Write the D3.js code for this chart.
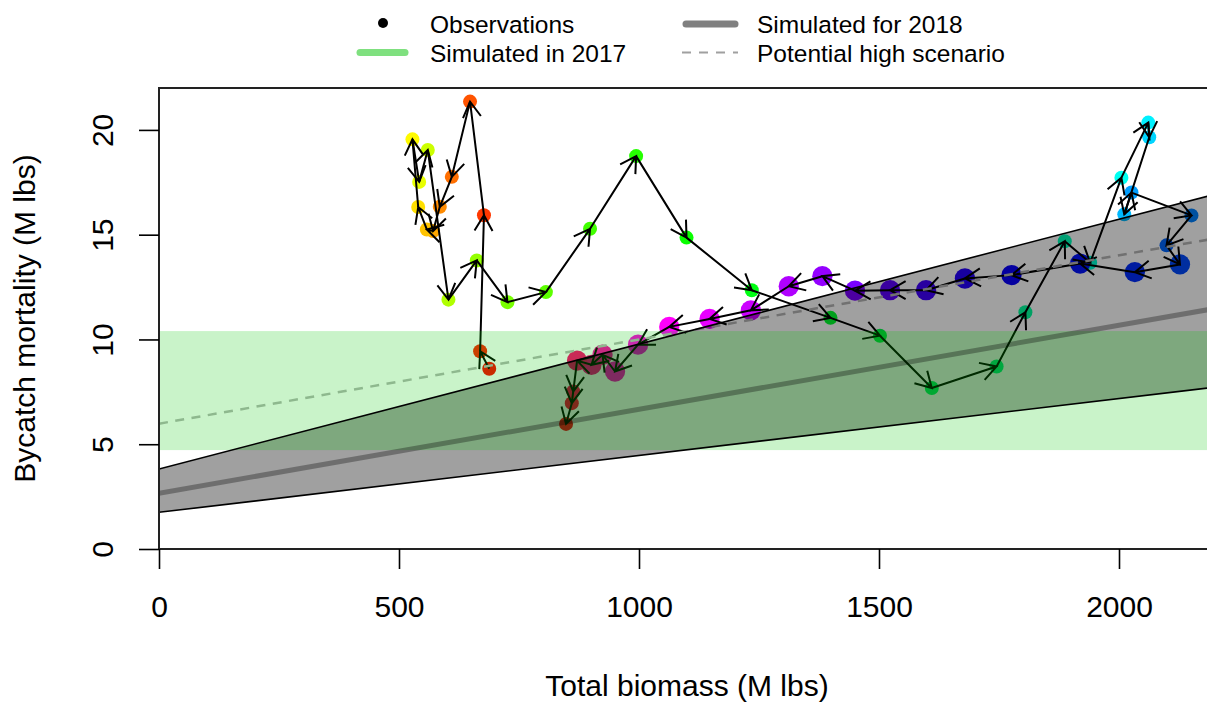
<!DOCTYPE html>
<html>
<head>
<meta charset="utf-8">
<script src="https://cdn.jsdelivr.net/npm/d3@7"></script>
<style>
  body { margin: 0; background: #fff; }
  text { font-family: "Liberation Sans", Arial, sans-serif; fill: #000; }
</style>
</head>
<body>
<div class="canvas"></div>
<script>
// observations, in time order (M lbs)
const biomass = [688, 669, 677, 648, 610, 585, 571, 558, 540, 528,
                 542, 560, 603, 662, 726, 806, 898, 994, 1099, 1235,
                 1399, 1502, 1610, 1745, 1805, 1887, 1940, 2005, 2061, 2063,
                 2011, 2026, 2151, 2099, 2127, 2033, 1919, 1776, 1679, 1598,
                 1523, 1450, 1382, 1312, 1233, 1147, 1063, 998, 950, 924,
                 901, 871, 863, 860, 848];
const bycatch = [8.60, 9.44, 15.93, 21.35, 17.76, 16.33, 15.17, 15.25, 16.32, 19.55,
                 17.52, 19.04, 11.90, 13.77, 11.78, 12.26, 15.28, 18.75, 14.86, 12.35,
                 11.03, 10.18, 7.68, 8.71, 11.30, 14.69, 13.66, 17.72, 20.35, 19.65,
                 15.97, 17.01, 15.92, 14.49, 13.58, 13.21, 13.62, 13.07, 12.91, 12.35,
                 12.35, 12.33, 13.02, 12.54, 11.39, 10.98, 10.60, 9.75, 8.47, 9.27,
                 8.79, 8.99, 7.52, 6.96, 5.97];
const pointCex = [1, 1, 1, 1, 1, 1, 1, 1, 1, 1,
                  1, 1, 1, 1, 1, 1, 1, 1, 1, 1,
                  1, 1, 1, 1, 1, 1, 1, 1, 1, 1,
                  1, 1, 1, 1, 1.45, 1.45, 1.45, 1.45, 1.45, 1.45,
                  1.45, 1.45, 1.45, 1.45, 1.45, 1.45, 1.45, 1.45, 1.45, 1.45,
                  1.45, 1.45, 1, 1, 1];

// simulated relationships (lines at both ends of the biomass range)
const simX = [0, 2200];
const simLower = [1.75, 7.72];
const simMedian = [2.66, 11.48];
const simUpper = [3.82, 16.93];
const highScenario = [5.98, 14.82];
const band2017 = [4.72, 10.40];

const xTicks = [0, 500, 1000, 1500, 2000];
const yTicks = [0, 5, 10, 15, 20];

const width = 1207, height = 702;
const margin = {top: 88, left: 159, right: 1215, bottom: 549};

const svg = d3.select('.canvas')
  .append('svg')
    .attr('width', width)
    .attr('height', height);

const x = d3.scaleLinear().domain([0, 2200]).range([margin.left, margin.right]);
const y = d3.scaleLinear().domain([0, 22]).range([margin.bottom, margin.top]);

svg.append('clipPath')
    .attr('id', 'plot-clip')
  .append('rect')
    .attr('x', margin.left)
    .attr('y', margin.top)
    .attr('width', margin.right - margin.left)
    .attr('height', margin.bottom - margin.top);

const graph = svg.append('g').attr('clip-path', 'url(#plot-clip)');

// colour by position in the series, like R's rainbow()
const hue = d3.scaleLinear().domain([0, biomass.length]).range([0, 360]);
const obs = biomass.map((b, i) => ({b, m: bycatch[i], cex: pointCex[i], i}));

graph.selectAll('circle.obs')
  .data(obs)
  .enter()
  .append('circle')
    .attr('class', 'obs')
    .attr('cx', d => x(d.b))
    .attr('cy', d => y(d.m))
    .attr('r', d => 7 * d.cex)
    .attr('fill', d => d3.hsl(hue(d.i), 1, 0.5).toString());

// arrows from one year to the next
const headLen = 18, headAng = Math.PI / 6;
const arrowPath = (a, b) => {
  const x0 = x(a.b), y0 = y(a.m), x1 = x(b.b), y1 = y(b.m);
  const ang = Math.atan2(y1 - y0, x1 - x0);
  const hx1 = x1 - headLen * Math.cos(ang - headAng), hy1 = y1 - headLen * Math.sin(ang - headAng);
  const hx2 = x1 - headLen * Math.cos(ang + headAng), hy2 = y1 - headLen * Math.sin(ang + headAng);
  return `M${x0},${y0}L${x1},${y1}M${hx1},${hy1}L${x1},${y1}L${hx2},${hy2}`;
};

graph.selectAll('path.arrow')
  .data(d3.pairs(obs))
  .enter()
  .append('path')
    .attr('class', 'arrow')
    .attr('fill', 'none')
    .attr('stroke', '#000')
    .attr('stroke-width', 2)
    .attr('d', d => arrowPath(d[0], d[1]));

const line = d3.line().x(d => x(d[0])).y(d => y(d[1]));

graph.append('path')
    .attr('fill', 'none')
    .attr('stroke', '#b4b4b4')
    .attr('stroke-width', 2.5)
    .attr('stroke-dasharray', '9,7.5')
    .attr('d', line(d3.zip(simX, highScenario)));

// simulated for 2018
const area = d3.area().x(d => x(d[0])).y0(d => y(d[1])).y1(d => y(d[2]));
graph.append('path')
    .attr('fill', '#000')
    .attr('fill-opacity', 0.373)
    .attr('d', area(d3.zip(simX, simLower, simUpper)));

// simulated in 2017
graph.append('rect')
    .attr('x', margin.left)
    .attr('width', margin.right - margin.left)
    .attr('y', y(band2017[1]))
    .attr('height', y(band2017[0]) - y(band2017[1]))
    .attr('fill', 'rgb(0,198,0)')
    .attr('fill-opacity', 0.21);

graph.append('path')
    .attr('fill', 'none')
    .attr('stroke', '#000')
    .attr('stroke-opacity', 0.31)
    .attr('stroke-width', 5)
    .attr('d', line(d3.zip(simX, simMedian)));

[simLower, simUpper].forEach(s => {
  graph.append('path')
      .attr('fill', 'none')
      .attr('stroke', '#000')
      .attr('stroke-width', 1.6)
      .attr('d', line(d3.zip(simX, s)));
});

// box
svg.append('rect')
    .attr('x', margin.left)
    .attr('y', margin.top)
    .attr('width', margin.right - margin.left)
    .attr('height', margin.bottom - margin.top)
    .attr('fill', 'none')
    .attr('stroke', '#222')
    .attr('stroke-width', 2);

// axes
const xAxis = svg.append('g')
    .attr('transform', `translate(0, ${margin.bottom})`)
    .call(d3.axisBottom(x).tickValues(xTicks).tickSize(20).tickFormat(d3.format('d')));
xAxis.select('.domain').remove();
xAxis.selectAll('line').attr('stroke', '#000').attr('stroke-width', 1.6);
xAxis.selectAll('text')
    .attr('y', 68)
    .attr('dy', null)
    .attr('font-size', 30)
    .attr('font-family', '"Liberation Sans", Arial, sans-serif');

const yAxis = svg.append('g')
    .attr('transform', `translate(${margin.left}, 0)`)
    .call(d3.axisLeft(y).tickValues(yTicks).tickSize(20));
yAxis.select('.domain').remove();
yAxis.selectAll('line').attr('stroke', '#000').attr('stroke-width', 1.6);
yAxis.selectAll('text')
    .attr('x', null)
    .attr('dy', null)
    .attr('text-anchor', 'middle')
    .attr('transform', 'translate(-46, 0) rotate(-90)')
    .attr('font-size', 30)
    .attr('font-family', '"Liberation Sans", Arial, sans-serif');

svg.append('text')
    .attr('x', (margin.left + margin.right) / 2)
    .attr('y', 696)
    .attr('text-anchor', 'middle')
    .attr('font-size', 30)
    .text('Total biomass (M lbs)');

svg.append('text')
    .attr('transform', `translate(35, ${(margin.top + margin.bottom) / 2}) rotate(-90)`)
    .attr('text-anchor', 'middle')
    .attr('font-size', 30)
    .text('Bycatch mortality (M lbs)');

// legend
const legend = svg.append('g').attr('class', 'legend');
legend.append('circle').attr('cx', 383).attr('cy', 23).attr('r', 5).attr('fill', '#000');
legend.append('line')
    .attr('x1', 360).attr('x2', 405).attr('y1', 52.5).attr('y2', 52.5)
    .attr('stroke', '#7fe07f').attr('stroke-width', 7).attr('stroke-linecap', 'round');
legend.append('line')
    .attr('x1', 686).attr('x2', 735).attr('y1', 24).attr('y2', 24)
    .attr('stroke', '#808080').attr('stroke-width', 7).attr('stroke-linecap', 'round');
legend.append('line')
    .attr('x1', 682).attr('x2', 738).attr('y1', 52.5).attr('y2', 52.5)
    .attr('stroke', '#a0a0a0').attr('stroke-width', 1.8).attr('stroke-dasharray', '9,8');

const legendText = [
  {t: 'Observations', x: 430, y: 33},
  {t: 'Simulated in 2017', x: 430, y: 61.5},
  {t: 'Simulated for 2018', x: 757, y: 33},
  {t: 'Potential high scenario', x: 757, y: 61.5}
];
legend.selectAll('text')
  .data(legendText)
  .enter()
  .append('text')
    .attr('x', d => d.x)
    .attr('y', d => d.y)
    .attr('font-size', 24.5)
    .text(d => d.t);
</script>
</body>
</html>
